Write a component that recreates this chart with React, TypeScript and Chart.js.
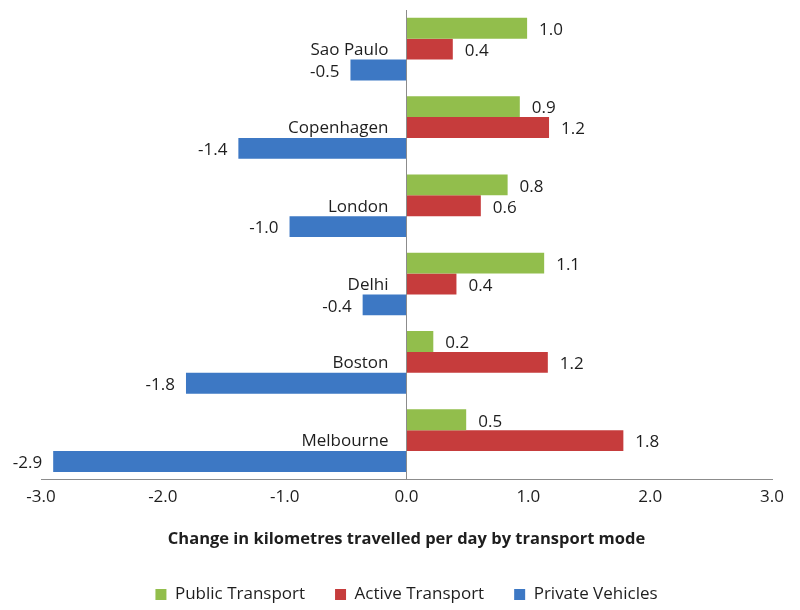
import React, { useEffect, useRef } from "react";
import { Chart, registerables } from "chart.js";

Chart.register(...registerables);

const cities = ["Sao Paulo", "Copenhagen", "London", "Delhi", "Boston", "Melbourne"];
const publicTransport = [0.99, 0.93, 0.83, 1.13, 0.22, 0.49];
const activeTransport = [0.38, 1.17, 0.61, 0.41, 1.16, 1.78];
const privateVehicles = [-0.46, -1.38, -0.96, -0.36, -1.81, -2.9];
const seriesNames = ["Public Transport", "Active Transport", "Private Vehicles"];
const seriesColors = ["#92BE4C", "#C63C3C", "#3D78C4"];
const xTitle = "Change in kilometres travelled per day by transport mode";

const FONT = "'Open Sans', 'DejaVu Sans', sans-serif";
const TEXT = "#1E1E1E";

const labelPlugin = {
  id: "labelPlugin",
  afterDatasetsDraw(chart: any) {
    const ctx = chart.ctx;
    ctx.save();
    ctx.font = `17px ${FONT}`;
    ctx.fillStyle = TEXT;
    ctx.textBaseline = "middle";
    chart.data.datasets.forEach((ds: any, di: number) => {
      const meta = chart.getDatasetMeta(di);
      meta.data.forEach((el: any, i: number) => {
        const v = ds.data[i];
        const txt = v.toFixed(1);
        if (v >= 0) {
          ctx.textAlign = "left";
          ctx.fillText(txt, el.x + 12, el.y + 2);
        } else {
          ctx.textAlign = "right";
          ctx.fillText(txt, el.x - 11, el.y + 2);
        }
      });
    });
    const xs = chart.scales.x;
    const ys = chart.scales.y;
    const x0 = xs.getPixelForValue(0);
    ctx.textAlign = "right";
    chart.data.labels.forEach((lab: string, i: number) => {
      ctx.fillText(lab, x0 - 18, ys.getPixelForValue(i) + 1);
    });
    ctx.restore();
  },
};

export default function App() {
  const ref = useRef<HTMLCanvasElement>(null);
  useEffect(() => {
    document.body.style.margin = "0";
    const chart = new Chart(ref.current!, {
      type: "bar",
      data: {
        labels: cities,
        datasets: [publicTransport, activeTransport, privateVehicles].map((d, i) => ({
          label: seriesNames[i],
          data: d,
          backgroundColor: seriesColors[i],
          borderWidth: 0,
          categoryPercentage: 0.8,
          barPercentage: 1,
        })),
      },
      options: {
        indexAxis: "y",
        animation: false,
        responsive: true,
        maintainAspectRatio: false,
        layout: { padding: { left: 41, right: 28, top: 10, bottom: -3 } },
        scales: {
          x: {
            min: -3,
            max: 3,
            ticks: {
              stepSize: 1,
              callback: (v: any) => Number(v).toFixed(1),
              font: { family: FONT, size: 17 },
              color: TEXT,
              padding: 7,
              maxRotation: 0,
            },
            grid: {
              drawTicks: false,
              color: (c: any) => (c.tick && c.tick.value === 0 ? "#8C8C8C" : "rgba(0,0,0,0)"),
            },
            border: { display: true, color: "#8C8C8C" },
            title: {
              display: true,
              text: xTitle,
              font: { family: FONT, size: 16.5, weight: "bold" },
              color: TEXT,
              padding: { top: 15, bottom: 7 },
            },
          },
          y: {
            display: false,
          },
        },
        plugins: {
          legend: {
            position: "bottom",
            labels: {
              boxWidth: 11,
              boxHeight: 11,
              font: { family: FONT, size: 17 },
              color: TEXT,
              padding: 30,
            },
          },
          tooltip: { enabled: false },
        },
      },
      plugins: [labelPlugin],
    });
    return () => chart.destroy();
  }, []);
  return (
    <div style={{ width: 800, height: 610, position: "relative" }}>
      <canvas ref={ref} />
    </div>
  );
}
